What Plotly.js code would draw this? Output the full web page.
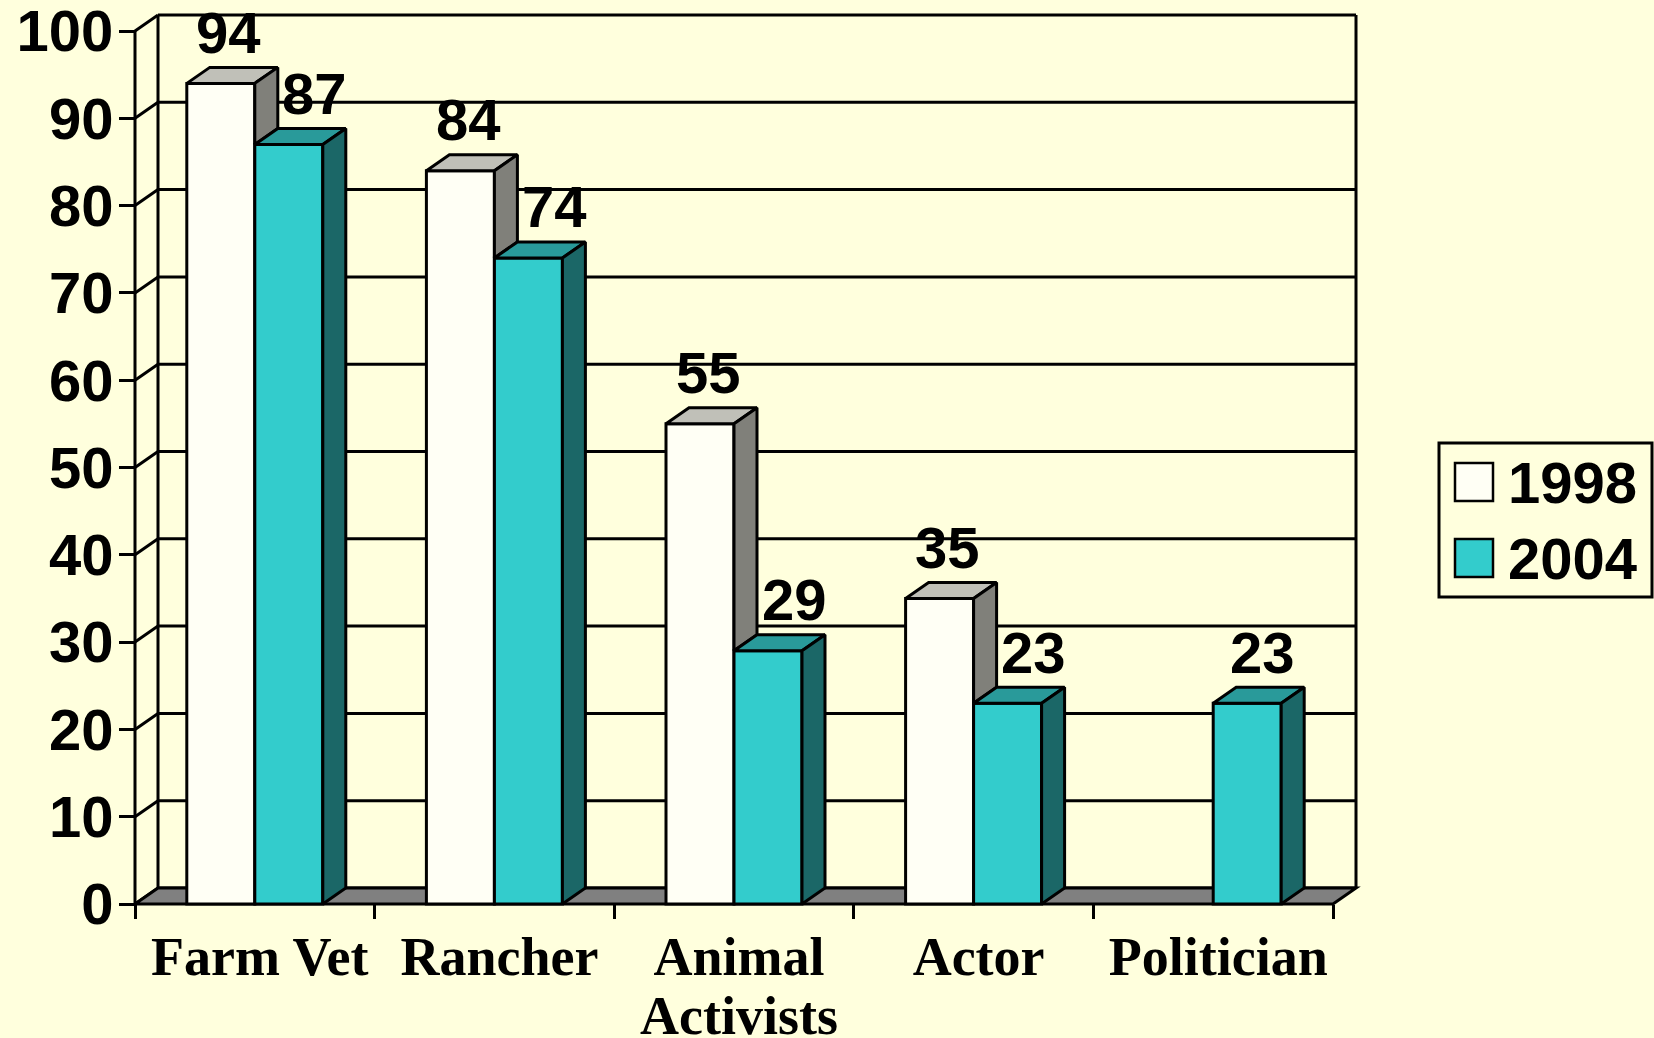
<!DOCTYPE html>
<html>
<head>
<meta charset="utf-8">
<script src="https://cdn.plot.ly/plotly-3.0.1.min.js"></script>
<style>
  html, body { margin: 0; padding: 0; background: #FFFFDD; }
  #chart { width: 1654px; height: 1038px; }
</style>
</head>
<body>
<div id="chart"></div>
<script>
// ---------------- data ----------------
const categories = ['Farm Vet', 'Rancher', 'Animal<br>Activists', 'Actor', 'Politician'];
const seriesNames = ['1998', '2004'];
const values1998 = [94, 84, 55, 35, null];
const values2004 = [87, 74, 29, 23, 23];
const yTickVals = [0, 10, 20, 30, 40, 50, 60, 70, 80, 90, 100];

// ---------------- style ----------------
const W = 1654, H = 1038;
const BG = '#FFFFDD';
const X0 = 135, Y0 = 904;        // front-left / front-bottom corner (px)
const CAT = 239.6, PY = 8.73;    // px per category, px per value unit
const DX = 23, DY = 16;          // depth offset (px)
const PADL = 12, PADR = 12, PADT = 10, PADB = 12;
const BARPX = 68;
const LW = 3;
const LINE2 = 59;                // spacing of the second line of a category label
const LABEL_DX = 5;              // category label nudge (px)
const colors = {
  '1998': { front: '#FFFFF5', top: '#C0C0B8', side: '#80807A' },
  '2004': { front: '#33CCCC', top: '#299A9A', side: '#1B6767' }
};
const floorColor = '#808080';

const n = categories.length;
const xmin = -0.5 - PADL / CAT, xmax = n - 0.5 + (DX + PADR) / CAT;
const yTop = yTickVals[yTickVals.length - 1];
const ymin = -PADB / PY, ymax = yTop + (DY + PADT) / PY;
const ML = X0 - PADL, PW = (xmax - xmin) * CAT, MR = W - ML - PW;
const MT = Y0 - ymax * PY, PH = (ymax - ymin) * PY, MB = H - MT - PH;
const dxU = DX / CAT, dyU = DY / PY, BW = BARPX / CAT;
const px2x = p => (p - ML) / PW;
const px2y = p => (MT + PH - p) / PH;

const idx = categories.map((_, i) => i);
const labelPos = idx.map(i => i + LABEL_DX / CAT);
const seriesVals = [values1998, values2004];
const offsets = [-BW, 0];
const labelLine1 = categories.map(c => c.split('<br>')[0]);
const labelLine2 = categories.map(c => c.split('<br>')[1] || '');

// ---------------- traces ----------------
const traces = [];
seriesVals.forEach((vals, s) => {
  traces.push({
    type: 'bar', name: seriesNames[s], x: idx, y: vals,
    offset: offsets[s], width: BW,
    marker: { color: colors[seriesNames[s]].front, line: { color: '#000', width: LW } },
    cliponaxis: false, hoverinfo: 'skip', showlegend: false
  });
});

function polyTrace(polys, fill) {
  const x = [], y = [];
  polys.forEach(p => {
    p.forEach(pt => { x.push(pt[0]); y.push(pt[1]); });
    x.push(p[0][0]); y.push(p[0][1]);
    x.push(null); y.push(null);
  });
  return {
    type: 'scatter', mode: 'lines', x, y, fill: 'toself', fillcolor: fill,
    line: { color: '#000', width: LW }, connectgaps: false,
    cliponaxis: false, hoverinfo: 'skip', showlegend: false
  };
}

seriesVals.forEach((vals, s) => {
  const tops = [], sides = [];
  vals.forEach((v, i) => {
    if (v === null || v === undefined) return;
    const xl = i + offsets[s], xr = xl + BW;
    tops.push([[xl, v], [xr, v], [xr + dxU, v + dyU], [xl + dxU, v + dyU]]);
    let vb = 0;
    if (s === 0 && values2004[i] !== null) vb = values2004[i];
    sides.push([[xr, vb], [xr, v], [xr + dxU, v + dyU], [xr + dxU, vb + dyU]]);
  });
  traces.push(polyTrace(tops, colors[seriesNames[s]].top));
  traces.push(polyTrace(sides, colors[seriesNames[s]].side));
});

// empty trace that carries the second line of the category labels
traces.push({ type: 'scatter', mode: 'markers', x: [], y: [], xaxis: 'x2', yaxis: 'y', hoverinfo: 'skip', showlegend: false });

// ---------------- walls / grid / floor (shapes below traces) ----------------
const shapes = [];
const xbL = -0.5 + dxU, xbR = n - 0.5 + dxU;
const lineSty = { color: '#000', width: LW };
yTickVals.forEach(t => {
  shapes.push({ type: 'line', xref: 'x', yref: 'y', layer: 'below', x0: xbL, x1: xbR, y0: t + dyU, y1: t + dyU, line: lineSty });
  shapes.push({ type: 'line', xref: 'x', yref: 'y', layer: 'below', x0: -0.5, x1: xbL, y0: t, y1: t + dyU, line: lineSty });
});
shapes.push({ type: 'line', xref: 'x', yref: 'y', layer: 'below', x0: xbL, x1: xbL, y0: dyU, y1: yTop + dyU, line: lineSty });
shapes.push({ type: 'line', xref: 'x', yref: 'y', layer: 'below', x0: xbR, x1: xbR, y0: dyU, y1: yTop + dyU, line: lineSty });
shapes.push({ type: 'line', xref: 'x', yref: 'y', layer: 'below', x0: -0.5, x1: -0.5, y0: 0, y1: yTop, line: lineSty });
shapes.push({
  type: 'path', xref: 'x', yref: 'y', layer: 'below',
  path: `M ${-0.5} 0 L ${n - 0.5} 0 L ${xbR} ${dyU} L ${xbL} ${dyU} Z`,
  fillcolor: floorColor, line: lineSty
});

// ---------------- data labels ----------------
const annotations = [];
const labelFont = { family: 'Liberation Sans, Arial, sans-serif', size: 58, color: '#000', weight: 'bold' };
seriesVals.forEach((vals, s) => {
  vals.forEach((v, i) => {
    if (v === null || v === undefined) return;
    let xs = 8;
    if (s === 1) xs = (values1998[i] !== null) ? 26 : 15;
    annotations.push({
      xref: 'x', yref: 'y', x: i + offsets[s] + BW / 2, y: v,
      text: String(v), showarrow: false, xanchor: 'center', yanchor: 'middle',
      xshift: xs, yshift: 51, font: labelFont
    });
  });
});

// ---------------- legend (manual) ----------------
const legBox = { x0: 1439, y0: 443, x1: 1652, y1: 597 };
shapes.push({ type: 'rect', xref: 'paper', yref: 'paper',
  x0: px2x(legBox.x0), x1: px2x(legBox.x1), y0: px2y(legBox.y1), y1: px2y(legBox.y0),
  fillcolor: BG, line: { color: '#000', width: LW } });
const legRowY = [482, 558];
seriesNames.forEach((nm, s) => {
  const cy = legRowY[s];
  shapes.push({ type: 'rect', xref: 'paper', yref: 'paper',
    x0: px2x(1455), x1: px2x(1493), y0: px2y(cy + 19), y1: px2y(cy - 19),
    fillcolor: colors[nm].front, line: { color: '#000', width: 2.5 } });
  annotations.push({ xref: 'paper', yref: 'paper', x: px2x(1506), y: px2y(cy),
    xanchor: 'left', yanchor: 'middle', text: nm, showarrow: false,
    font: { family: 'Liberation Sans, Arial, sans-serif', size: 58, color: '#000', weight: 'bold' } });
});

// ---------------- layout ----------------
const bounds = [];
for (let i = 0; i <= n; i++) bounds.push(i - 0.5);
const xFont = { family: 'Liberation Serif, Times New Roman, serif', size: 54, color: '#000', weight: 'bold' };
const XSTAND = 16;

const layout = {
  width: W, height: H, autosize: false,
  paper_bgcolor: BG, plot_bgcolor: BG,
  margin: { l: ML, r: MR, t: MT, b: MB, pad: 0, autoexpand: false },
  showlegend: false, barmode: 'overlay',
  xaxis: {
    range: [xmin, xmax], anchor: 'free', position: px2y(Y0),
    showgrid: false, zeroline: false, showline: false,
    tickmode: 'array', tickvals: labelPos, ticktext: labelLine1,
    ticks: '', ticklabelstandoff: XSTAND, ticklabeloverflow: 'allow',
    tickfont: xFont,
    minor: { tickmode: 'array', tickvals: bounds, ticks: 'outside', ticklen: 14, tickwidth: LW, tickcolor: '#000', showgrid: false },
    fixedrange: true
  },
  xaxis2: {
    range: [xmin, xmax], anchor: 'free', position: px2y(Y0), overlaying: 'x', side: 'bottom',
    showgrid: false, zeroline: false, showline: false,
    tickmode: 'array', tickvals: labelPos, ticktext: labelLine2,
    ticks: '', ticklabelstandoff: XSTAND + LINE2, ticklabeloverflow: 'allow',
    tickfont: xFont, fixedrange: true
  },
  yaxis: {
    range: [ymin, ymax], anchor: 'free', position: px2x(X0),
    showgrid: false, zeroline: false, showline: false,
    tickmode: 'array', tickvals: yTickVals,
    ticks: 'outside', ticklen: 16, tickwidth: LW, tickcolor: '#000',
    ticklabelstandoff: -6, ticklabeloverflow: 'allow',
    tickfont: { family: 'Liberation Sans, Arial, sans-serif', size: 58, color: '#000', weight: 'bold' },
    fixedrange: true
  },
  shapes, annotations
};

Plotly.newPlot('chart', traces, layout, { displayModeBar: false, staticPlot: true });
</script>
</body>
</html>
